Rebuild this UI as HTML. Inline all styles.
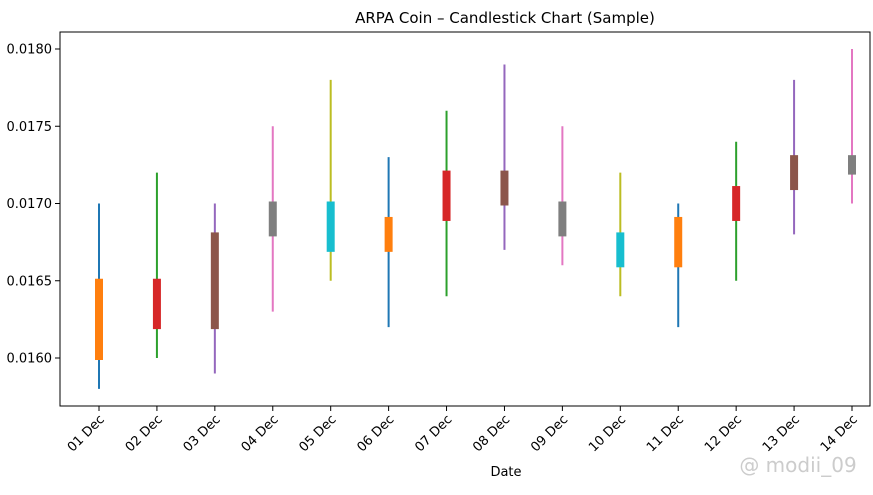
<!DOCTYPE html>
<html><head><meta charset="utf-8"><style>
body{margin:0;background:#fff;font-family:"Liberation Sans","DejaVu Sans",sans-serif;}
svg text{font-family:"DejaVu Sans","Liberation Sans",sans-serif;}
</style></head><body>
<svg id="chart" width="873" height="490" xmlns="http://www.w3.org/2000/svg">
<text x="505" y="23" font-size="15" text-anchor="middle">ARPA Coin – Candlestick Chart (Sample)</text>
<rect x="60" y="32" width="810" height="374" fill="none" stroke="#000" stroke-width="1"/>
<g id="yaxis"></g><g id="xaxis"></g><g id="marks"></g>
<text x="506" y="476" font-size="13" text-anchor="middle">Date</text>
<text x="798" y="472" font-size="20" fill="#ccc" text-anchor="middle">@ modii_09</text>
</svg>
<script>
const categories=["01 Dec","02 Dec","03 Dec","04 Dec","05 Dec","06 Dec","07 Dec","08 Dec","09 Dec","10 Dec","11 Dec","12 Dec","13 Dec","14 Dec"];
const highs=[0.0170,0.0172,0.0170,0.0175,0.0178,0.0173,0.0176,0.0179,0.0175,0.0172,0.0170,0.0174,0.0178,0.0180];
const lows=[0.0158,0.0160,0.0159,0.0163,0.0165,0.0162,0.0164,0.0167,0.0166,0.0164,0.0162,0.0165,0.0168,0.0170];
const opens=[0.0160,0.0162,0.0162,0.0168,0.0167,0.0167,0.0169,0.0170,0.0168,0.0166,0.0166,0.0169,0.0171,0.0172];
const closes=[0.0165,0.0165,0.0168,0.0170,0.0170,0.0169,0.0172,0.0172,0.0170,0.0168,0.0169,0.0171,0.0173,0.0173];
const yTicks=[0.0160,0.0165,0.0170,0.0175,0.0180];
const palette=["#1f77b4","#ff7f0e","#2ca02c","#d62728","#9467bd","#8c564b","#e377c2","#7f7f7f","#bcbd22","#17becf"];
const NS="http://www.w3.org/2000/svg";
function y(v){return 358-(v-0.016)*154500;}
function x(i){return 99+i*(852-99)/13;}
function mk(t,a,p){const e=document.createElementNS(NS,t);for(const k in a)e.setAttribute(k,a[k]);p.appendChild(e);return e;}
const ya=document.getElementById('yaxis'),xa=document.getElementById('xaxis'),m=document.getElementById('marks');
yTicks.forEach(v=>{
 const l=mk('line',{x1:55,x2:60,y1:y(v),y2:y(v),stroke:'#000'},ya);
 
 
 const t=mk('text',{x:52,y:y(v)+4.5,'font-size':13,'text-anchor':'end'},ya);
 t.textContent=v.toFixed(4);
 
 
});
categories.forEach((c,i)=>{
 const l=mk('line',{x1:x(i),x2:x(i),y1:406,y2:411,stroke:'#000'},xa);
 
 
 const t=mk('text',{x:x(i)+6,y:420,'font-size':13,'text-anchor':'end',transform:`rotate(-45 ${x(i)+6} 420)`},xa);
 t.textContent=c;
 
 
 const w=mk('line',{x1:x(i),x2:x(i),y1:y(highs[i]),y2:y(lows[i]),stroke:palette[(2*i)%10],'stroke-width':2},m);
 
 
 const top=Math.max(opens[i],closes[i]),bot=Math.min(opens[i],closes[i]);
 const b=mk('rect',{x:x(i)-4,y:y(top)-2,width:8,height:y(bot)-y(top)+4,fill:palette[(2*i+1)%10]},m);
 
 
});
</script>
</body></html>
